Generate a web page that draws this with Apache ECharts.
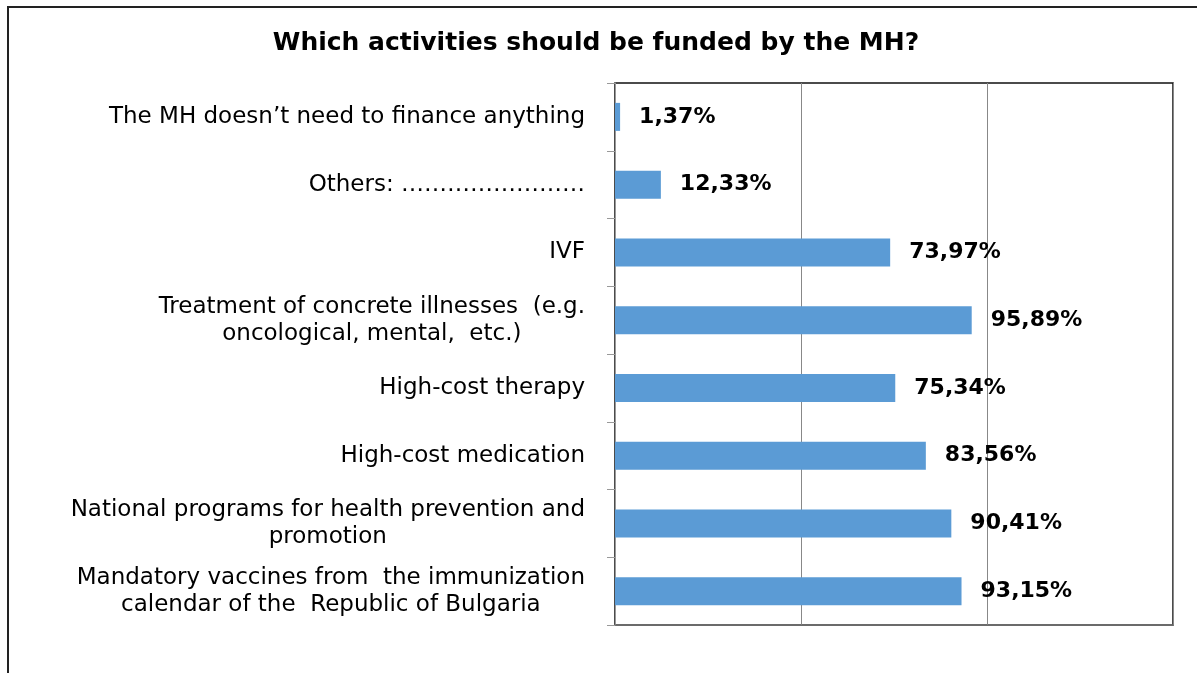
<!DOCTYPE html>
<html>
<head>
<meta charset="utf-8">
<script src="https://cdn.jsdelivr.net/npm/echarts@6/dist/echarts.min.js"></script>
<style>
  html, body { margin: 0; padding: 0; background: #fff; }
  #chart { width: 1197px; height: 673px; }
</style>
</head>
<body>
<div id="chart"></div>
<script>
  // data, top to bottom
  var categories = [
    'The MH doesn\u2019t need to finance anything',
    'Others: \u2026\u2026\u2026\u2026\u2026\u2026\u2026\u2026',
    'IVF',
    'Treatment of concrete illnesses  (e.g.\noncological, mental,  etc.)',
    'High-cost therapy',
    'High-cost medication',
    'National programs for health prevention and\npromotion',
    'Mandatory vaccines from  the immunization\ncalendar of the  Republic of Bulgaria'
  ];
  var values = [1.37, 12.33, 73.97, 95.89, 75.34, 83.56, 90.41, 93.15];
  var xTicks = [0, 50, 100, 150];

  var myChart = echarts.init(document.getElementById('chart'));

  var option = {
    backgroundColor: '#fff',
    animation: false,
    title: {
      text: 'Which activities should be funded by the MH?',
      left: 591,
      textAlign: 'center',
      top: 26,
      textStyle: {
        fontFamily: 'DejaVu Sans',
        fontSize: 25,
        fontWeight: 'bold',
        color: '#000'
      }
    },
    graphic: [{
      type: 'rect',
      shape: { x: 8, y: 7, width: 1220, height: 700 },
      style: { fill: 'none', stroke: '#222', lineWidth: 2 },
      silent: true
    }],
    grid: {
      left: 615,
      right: 24,
      top: 83,
      bottom: 48,
      show: true,
      borderColor: '#111',
      borderWidth: 1.5
    },
    xAxis: {
      type: 'value',
      min: xTicks[0],
      max: xTicks[xTicks.length - 1],
      interval: 50,
      axisLabel: { show: false },
      axisTick: { show: false },
      axisLine: { show: true, lineStyle: { color: '#777', width: 1.5 } },
      splitLine: { show: true, lineStyle: { color: '#888', width: 1 } }
    },
    yAxis: {
      type: 'category',
      inverse: true,
      data: categories,
      axisLine: { show: true, lineStyle: { color: '#999', width: 1 } },
      axisTick: { show: true, length: 8, lineStyle: { color: '#999' } },
      axisLabel: {
        margin: 30,
        color: '#000',
        fontFamily: 'DejaVu Sans',
        fontSize: 23,
        lineHeight: 27,
        formatter: function(value) {
          return value.split('\n').map(function(s) { return '{c|' + s + '}'; }).join('\n');
        },
        rich: {
          c: {
            align: 'center',
            fontFamily: 'DejaVu Sans',
            fontSize: 23,
            lineHeight: 27,
            color: '#000'
          }
        }
      }
    },
    series: [{
      type: 'bar',
      data: values,
      barWidth: 28,
      itemStyle: { color: '#5B9BD5' },
      label: {
        show: true,
        position: 'right',
        distance: 19,
        color: '#000',
        fontFamily: 'DejaVu Sans',
        fontSize: 22,
        fontWeight: 'bold',
        formatter: function(p) {
          return p.value.toFixed(2).replace('.', ',') + '%';
        }
      }
    }]
  };

  myChart.setOption(option);
  window.addEventListener('resize', function() {
    myChart.resize();
  });
</script>
</body>
</html>
